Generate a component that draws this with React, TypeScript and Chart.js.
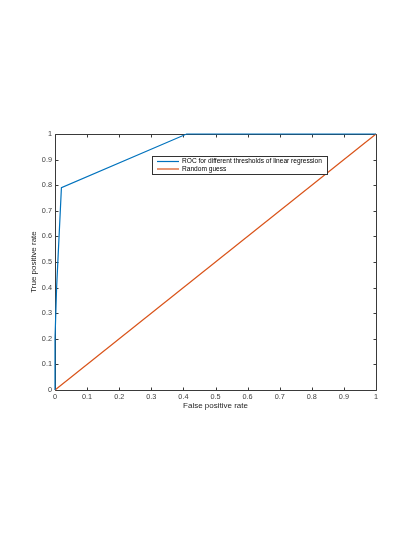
import { useEffect, useRef } from "react";
import { Chart, registerables } from "chart.js";

Chart.register(...registerables);

const rocFpr = [0, 0, 0.005, 0.02, 0.41, 1];
const rocTpr = [0, 0.2, 0.4, 0.79, 1, 1];
const guessFpr = [0, 1];
const guessTpr = [0, 1];
const tickValues = [0, 0.1, 0.2, 0.3, 0.4, 0.5, 0.6, 0.7, 0.8, 0.9, 1];
const seriesLabels = [
  "ROC for different thresholds of linear regression",
  "Random guess",
];
const seriesColors = ["#0072BD", "#D95319"];
const xTitle = "False positive rate";
const yTitle = "True positive rate";

const FONT = "'Liberation Sans', Arial, Helvetica, sans-serif";
const AXIS = "#3a3a3a";

const fmt = (v: number) => String(Number(Number(v).toFixed(1)));

const boxPlugin = {
  id: "matlabBox",
  beforeDatasetsDraw(chart: any) {
    const { ctx, chartArea, scales } = chart;
    const l = Math.round(chartArea.left) + 0.5;
    const r = Math.round(chartArea.right) + 0.5;
    const t = Math.round(chartArea.top) + 0.5;
    const b = Math.round(chartArea.bottom) + 0.5;
    ctx.save();
    ctx.strokeStyle = AXIS;
    ctx.lineWidth = 1;
    ctx.beginPath();
    ctx.rect(l, t, r - l, b - t);
    const tl = 3;
    for (const v of tickValues) {
      const px = Math.round(scales.x.getPixelForValue(v)) + 0.5;
      ctx.moveTo(px, b);
      ctx.lineTo(px, b - tl);
      ctx.moveTo(px, t);
      ctx.lineTo(px, t + tl);
      const py = Math.round(scales.y.getPixelForValue(v)) + 0.5;
      ctx.moveTo(l, py);
      ctx.lineTo(l + tl, py);
      ctx.moveTo(r, py);
      ctx.lineTo(r - tl, py);
    }
    ctx.stroke();
    ctx.restore();
  },
  afterDraw(chart: any) {
    const { ctx } = chart;
    ctx.save();
    const lx = 152.5, ly = 156.5, lw = 175, lh = 18;
    ctx.fillStyle = "#ffffff";
    ctx.fillRect(lx, ly, lw, lh);
    ctx.strokeStyle = "#333333";
    ctx.lineWidth = 1;
    ctx.strokeRect(lx, ly, lw, lh);
    ctx.font = `6.6px ${FONT}`;
    ctx.textBaseline = "middle";
    ctx.textAlign = "left";
    chart.data.datasets.forEach((ds: any, i: number) => {
      const y = ly + 5 + i * 7.5;
      ctx.strokeStyle = ds.borderColor;
      ctx.lineWidth = 1.2;
      ctx.beginPath();
      ctx.moveTo(lx + 4.5, y);
      ctx.lineTo(lx + 26.5, y);
      ctx.stroke();
      ctx.fillStyle = "#000000";
      ctx.fillText(ds.label, lx + 29.5, y);
    });
    ctx.restore();
  },
};

export default function App() {
  const ref = useRef<HTMLCanvasElement | null>(null);

  useEffect(() => {
    if (!ref.current) return;
    const chart = new Chart(ref.current, {
      type: "line",
      data: {
        datasets: [
          {
            label: seriesLabels[0],
            data: rocFpr.map((x, i) => ({ x, y: rocTpr[i] })),
            borderColor: seriesColors[0],
            backgroundColor: seriesColors[0],
            borderWidth: 1.2,
            pointRadius: 0,
            tension: 0,
            clip: false,
          },
          {
            label: seriesLabels[1],
            data: guessFpr.map((x, i) => ({ x, y: guessTpr[i] })),
            borderColor: seriesColors[1],
            backgroundColor: seriesColors[1],
            borderWidth: 1.2,
            pointRadius: 0,
            tension: 0,
            clip: false,
          },
        ],
      },
      options: {
        responsive: false,
        animation: false,
        devicePixelRatio: 1,
        layout: { padding: { left: 25, top: 134, right: 39, bottom: 122 } },
        plugins: {
          legend: { display: false },
          tooltip: { enabled: false },
        },
        scales: {
          x: {
            type: "linear",
            min: 0,
            max: 1,
            afterBuildTicks: (s: any) => {
              s.ticks = tickValues.map((v) => ({ value: v }));
            },
            afterFit: (s: any) => {
              s.height = 25;
              s.paddingLeft = 0;
              s.paddingRight = 0;
            },
            grid: { display: false, drawTicks: false },
            border: { display: false },
            ticks: {
              padding: 3,
              color: "#404040",
              font: { family: FONT, size: 7.3 },
              maxRotation: 0,
              autoSkip: false,
              callback: (v: any) => fmt(v),
            },
            title: {
              display: true,
              text: xTitle,
              color: "#262626",
              font: { family: FONT, size: 8 },
              padding: { top: 4, bottom: 4 },
            },
          },
          y: {
            type: "linear",
            min: 0,
            max: 1,
            afterBuildTicks: (s: any) => {
              s.ticks = tickValues.map((v) => ({ value: v }));
            },
            afterFit: (s: any) => {
              s.width = 30;
              s.paddingTop = 0;
              s.paddingBottom = 0;
            },
            grid: { display: false, drawTicks: false },
            border: { display: false },
            ticks: {
              padding: 3,
              color: "#404040",
              font: { family: FONT, size: 7.3 },
              autoSkip: false,
              callback: (v: any) => fmt(v),
            },
            title: {
              display: true,
              text: yTitle,
              color: "#262626",
              font: { family: FONT, size: 8 },
              padding: { top: 4, bottom: 4 },
            },
          },
        },
      },
      plugins: [boxPlugin],
    });
    return () => chart.destroy();
  }, []);

  return (
    <div style={{ position: "fixed", left: 0, top: 0, width: 415, height: 537, background: "#fff" }}>
      <canvas ref={ref} width={415} height={537} style={{ display: "block", width: 415, height: 537 }} />
    </div>
  );
}
